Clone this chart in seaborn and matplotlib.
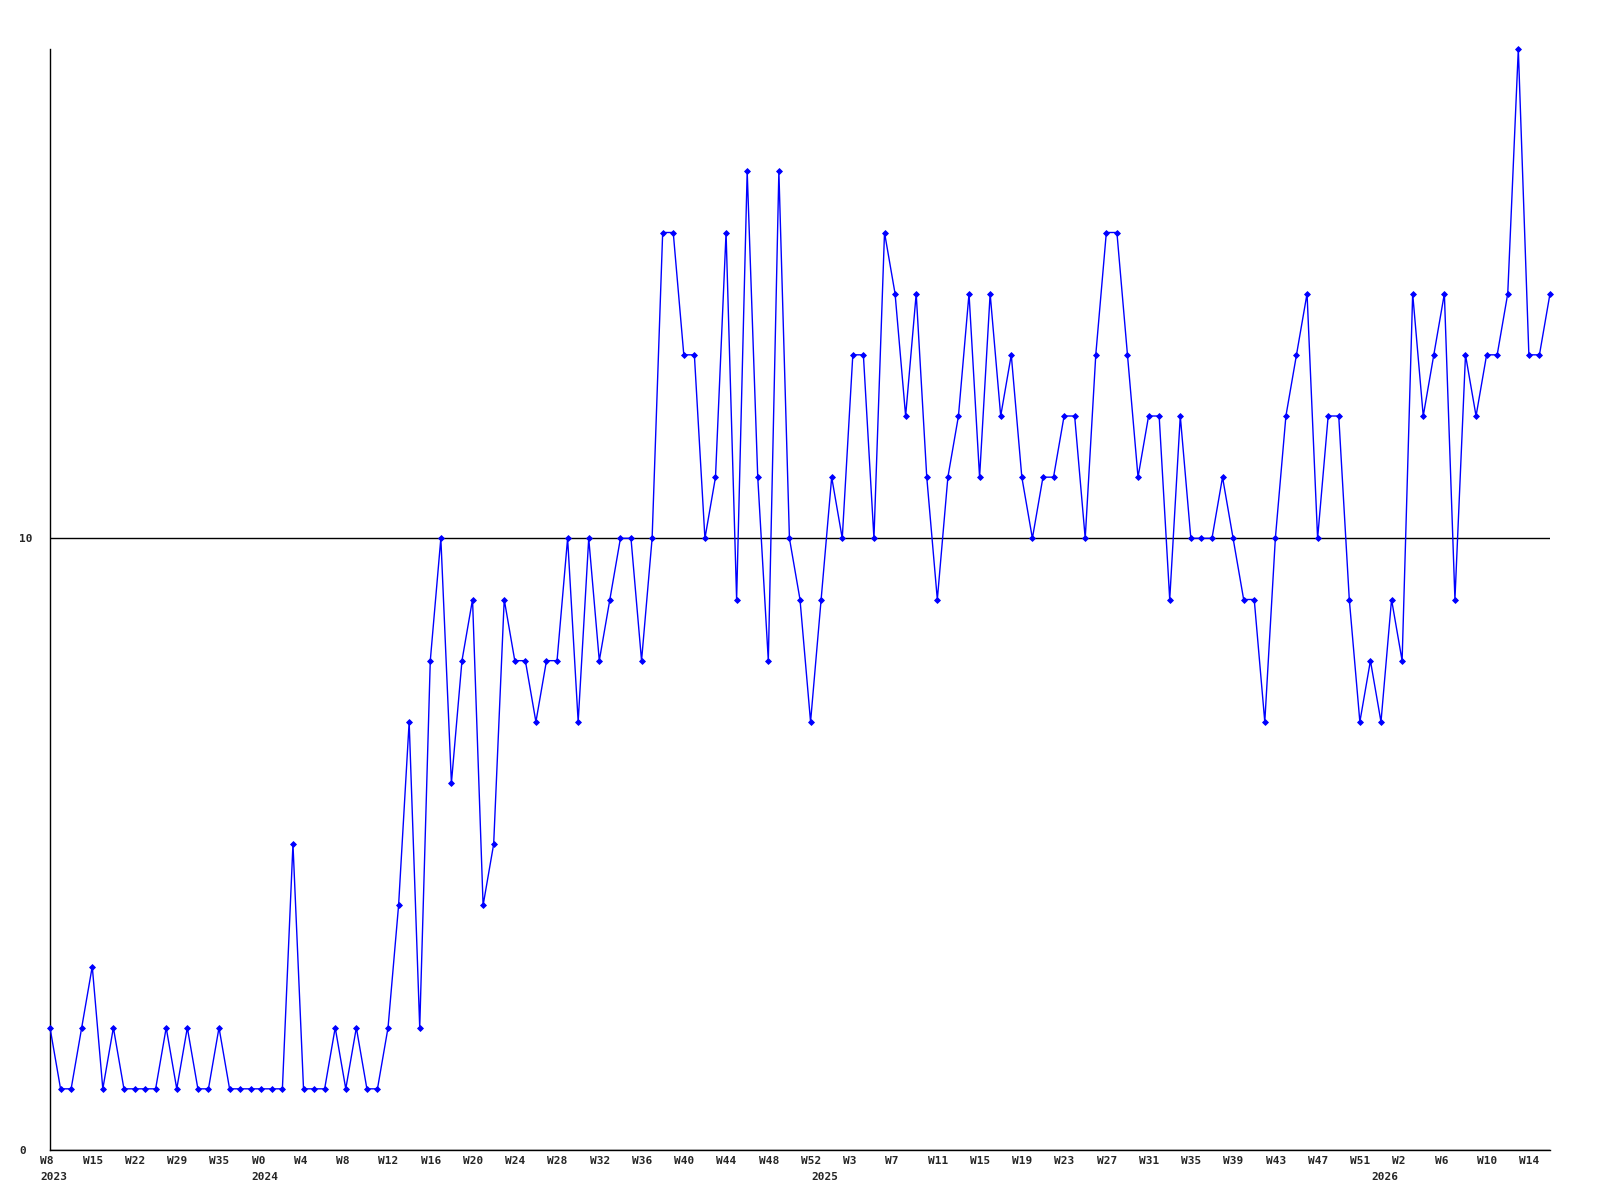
import numpy as np
import seaborn as sns
import matplotlib.pyplot as plt
from matplotlib.transforms import ScaledTranslation

# weekly counts
counts = [2, 1, 1, 2, 3, 1, 2, 1, 1, 1,
          1, 2, 1, 2, 1, 1, 2, 1, 1, 1,
          1, 1, 1, 5, 1, 1, 1, 2, 1, 2,
          1, 1, 2, 4, 7, 2, 8, 10, 6, 8,
          9, 4, 5, 9, 8, 8, 7, 8, 8, 10,
          7, 10, 8, 9, 10, 10, 8, 10, 15, 15,
          13, 13, 10, 11, 15, 9, 16, 11, 8, 16,
          10, 9, 7, 9, 11, 10, 13, 13, 10, 15,
          14, 12, 14, 11, 9, 11, 12, 14, 11, 14,
          12, 13, 11, 10, 11, 11, 12, 12, 10, 13,
          15, 15, 13, 11, 12, 12, 9, 12, 10, 10,
          10, 11, 10, 9, 9, 7, 10, 12, 13, 14,
          10, 12, 12, 9, 7, 8, 7, 9, 8, 14,
          12, 13, 14, 9, 13, 12, 13, 13, 14, 18,
          13, 13, 14]

# one label every 4th point
week_labels = ["W8", "W15", "W22", "W29", "W35",
               "W0", "W4", "W8", "W12", "W16", "W20", "W24", "W28", "W32",
               "W36", "W40", "W44", "W48", "W52",
               "W3", "W7", "W11", "W15", "W19", "W23", "W27", "W31", "W35",
               "W39", "W43", "W47", "W51",
               "W2", "W6", "W10", "W14"]

# first point of each year
year_labels = ["2023", "2024", "2025", "2026"]
year_start = [0, 20, 73, 126]

sns.set_style("white")
plt.rcParams["font.family"] = ["DejaVu Sans Mono"]
plt.rcParams["font.weight"] = "bold"
plt.rcParams["font.size"] = 8

fig = plt.figure(figsize=(16, 12), dpi=100)
ax = fig.add_axes([50 / 1600, 50 / 1200, 1500 / 1600, 1101 / 1200])

x = np.arange(len(counts))
sns.lineplot(x=x, y=counts, ax=ax, color="#0000ff", lw=1,
             marker="D", markersize=3, markeredgewidth=0.6,
             markeredgecolor="#0000ff", clip_on=False, zorder=3)

ax.set_xlim(0, len(counts) - 1)
ax.set_ylim(0, 18)

# y axis: only 0 and 10, with a black line at 10
ax.set_yticks([0, 10])
ax.set_yticklabels(["0", "10"])
ax.grid(axis="y", color="black", lw=1)
ax.grid(axis="x", visible=False)
ax.tick_params(axis="y", length=0, pad=22.3, labelsize=8)
for lab in ax.get_yticklabels():
    lab.set_horizontalalignment("left")

# x axis: week labels, year labels underneath
ax.set_xticks(np.arange(0, len(counts), 4))
ax.set_xticklabels(week_labels)
ax.set_xticks(year_start, minor=True)
ax.set_xticklabels(year_labels, minor=True)
ax.xaxis.remove_overlapping_locs = False
ax.tick_params(axis="x", which="major", length=0, pad=4, labelsize=8)
ax.tick_params(axis="x", which="minor", length=0, pad=15.5, labelsize=8)
shift = ScaledTranslation(-0.097, 0, fig.dpi_scale_trans)
for lab in ax.get_xticklabels(which="both"):
    lab.set_horizontalalignment("left")
    lab.set_fontweight("bold")
    lab.set_transform(lab.get_transform() + shift)

for side in ["top", "right"]:
    ax.spines[side].set_visible(False)
for side in ["left", "bottom"]:
    ax.spines[side].set_color("black")
    ax.spines[side].set_linewidth(1)

ax.set_xlabel("")
ax.set_ylabel("")

plt.savefig("out.png", dpi=100)
